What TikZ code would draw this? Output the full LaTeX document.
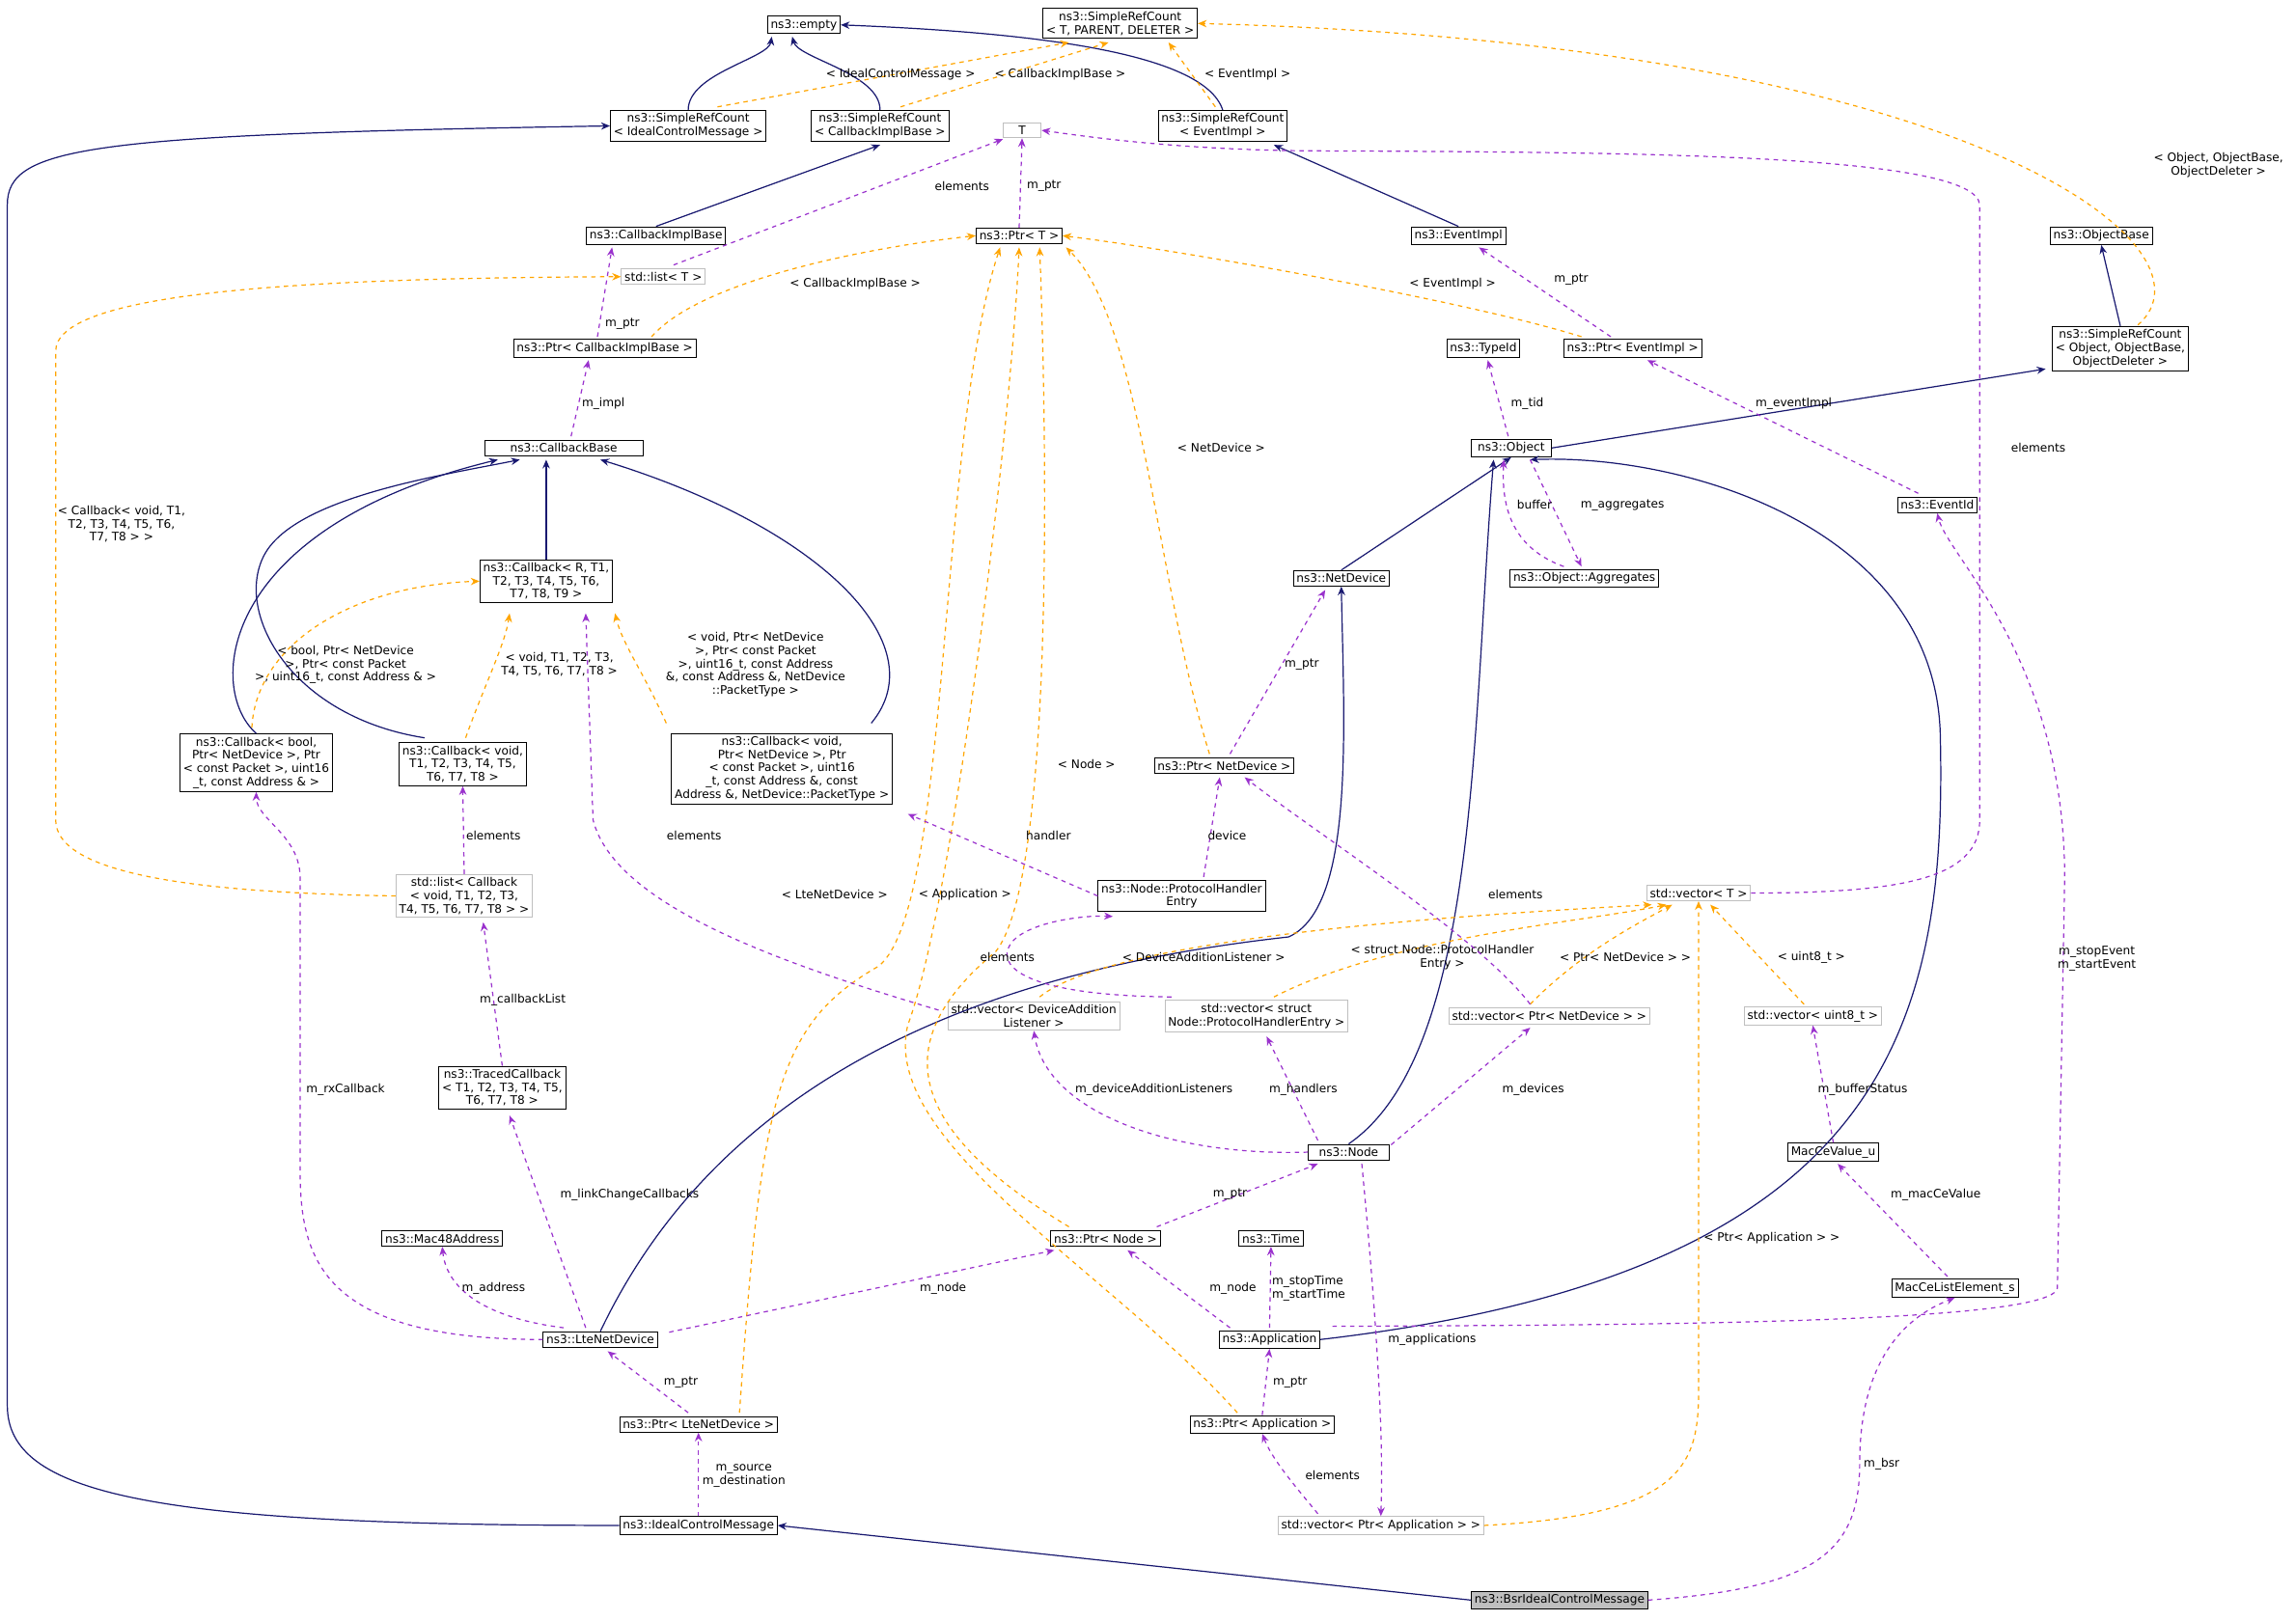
\documentclass[tikz,border=0pt]{standalone}
\usepackage{fontspec}
\setmainfont{DejaVu Sans}
\usetikzlibrary{arrows.meta}
\definecolor{nv}{HTML}{191970}
\definecolor{orn}{HTML}{FFA500}
\definecolor{pur}{HTML}{9A32CD}
\definecolor{gb}{HTML}{BFBFBF}
\begin{document}
\begin{tikzpicture}[x=1pt,y=-1pt,font=\fontsize{8}{9}\selectfont,
 box/.style={draw=black,fill=white,inner sep=2.2pt,align=center,line width=0.6pt},
 gbox/.style={draw=gb,fill=white,inner sep=2.2pt,align=center,line width=0.6pt},
 inh/.style={draw=nv,line width=0.8pt,-{Stealth[length=6pt,width=5pt]}},
 tpl/.style={draw=orn,dashed,line width=0.8pt,-{Stealth[length=6pt,width=5pt]}},
 use/.style={draw=pur,dashed,line width=0.8pt,-{Stealth[length=6pt,width=5pt]}},
 lbl/.style={inner sep=0.5pt,align=center}]
\useasboundingbox (0,0) rectangle (1568,1107);
% nodes
\node[box] (empty) at (549,17) {ns3::empty};
\node[box] (SRCT) at (765,16) {ns3::SimpleRefCount\\< T, PARENT, DELETER >};
\node[box] (SRCICM) at (470,86) {ns3::SimpleRefCount\\< IdealControlMessage >};
\node[box] (SRCCIB) at (601,86) {ns3::SimpleRefCount\\< CallbackImplBase >};
\node[box] (SRCEI) at (835,86) {ns3::SimpleRefCount\\< EventImpl >};
\node[gbox,minimum width=26pt] (T) at (698,89) {T};
\node[box] (CIB) at (448,161) {ns3::CallbackImplBase};
\node[box] (PtrT) at (696,161) {ns3::Ptr< T >};
\node[box] (EventImpl) at (996,161) {ns3::EventImpl};
\node[box] (ObjectBase) at (1435,161) {ns3::ObjectBase};
\node[gbox] (listT) at (453,189) {std::list< T >};
\node[box] (PtrCIB) at (413,238) {ns3::Ptr< CallbackImplBase >};
\node[box] (TypeId) at (1013,238) {ns3::TypeId};
\node[box] (PtrEI) at (1115,238) {ns3::Ptr< EventImpl >};
\node[box] (SRCOB) at (1448,238) {ns3::SimpleRefCount\\< Object, ObjectBase,\\ObjectDeleter >};
\node[box,minimum width=108pt] (CallbackBase) at (385,306) {ns3::CallbackBase};
\node[box,minimum width=55pt] (Object) at (1032,306) {ns3::Object};
\node[box] (EventId) at (1323,345) {ns3::EventId};
\node[box] (CbR) at (373,397) {ns3::Callback< R, T1,\\T2, T3, T4, T5, T6,\\T7, T8, T9 >};
\node[box] (NetDevice) at (916,395) {ns3::NetDevice};
\node[box] (ObjAgg) at (1082,395) {ns3::Object::Aggregates};
\node[box] (CbBool) at (175,521) {ns3::Callback< bool,\\Ptr< NetDevice >, Ptr\\< const Packet >, uint16\\\_t, const Address \& >};
\node[box] (CbVoid) at (316,522) {ns3::Callback< void,\\T1, T2, T3, T4, T5,\\T6, T7, T8 >};
\node[box] (CbVoid2) at (534,525) {ns3::Callback< void,\\Ptr< NetDevice >, Ptr\\< const Packet >, uint16\\\_t, const Address \&, const\\Address \&, NetDevice::PacketType >};
\node[box] (PtrND) at (836,523) {ns3::Ptr< NetDevice >};
\node[gbox] (listCb) at (317,612) {std::list< Callback\\< void, T1, T2, T3,\\T4, T5, T6, T7, T8 > >};
\node[box] (PHE) at (807,612) {ns3::Node::ProtocolHandler\\Entry};
\node[gbox] (vecT) at (1160,610) {std::vector< T >};
\node[gbox] (vecDAL) at (706,694) {std::vector< DeviceAddition\\Listener >};
\node[gbox] (vecPHE) at (858,694) {std::vector< struct\\Node::ProtocolHandlerEntry >};
\node[gbox] (vecPND) at (1058,694) {std::vector< Ptr< NetDevice > >};
\node[gbox] (vecU8) at (1238,694) {std::vector< uint8\_t >};
\node[box] (Traced) at (343,743) {ns3::TracedCallback\\< T1, T2, T3, T4, T5,\\T6, T7, T8 >};
\node[box,minimum width=55pt] (Node) at (921,787) {ns3::Node};
\node[box] (MacCe) at (1252,787) {MacCeValue\_u};
\node[box] (Mac48) at (302,846) {ns3::Mac48Address};
\node[box] (PtrNode) at (755,846) {ns3::Ptr< Node >};
\node[box] (Time) at (868,846) {ns3::Time};
\node[box] (MacCeList) at (1335,880) {MacCeListElement\_s};
\node[box] (LteNet) at (410,915) {ns3::LteNetDevice};
\node[box] (App) at (867,915) {ns3::Application};
\node[box] (PtrLte) at (477,973) {ns3::Ptr< LteNetDevice >};
\node[box] (PtrApp) at (862,973) {ns3::Ptr< Application >};
\node[box] (ICM) at (477,1042) {ns3::IdealControlMessage};
\node[gbox] (vecPApp) at (943,1042) {std::vector< Ptr< Application > >};
\node[box,fill=gb] (Bsr) at (1065,1093) {ns3::BsrIdealControlMessage};
% inheritance
\draw[inh] (SRCICM.north) .. controls (470,50) and (525,40) .. (527,25);
\draw[inh] (SRCCIB.north) .. controls (601,50) and (545,40) .. (541,25);
\draw[inh] (SRCEI.north) .. controls (822,35) and (700,22) .. (empty.east);
\draw[inh] (CIB.north) -- (601,99);
\draw[inh] (EventImpl.north) -- (870,99);
\draw[inh] (SRCOB.north) -- (ObjectBase.south);
\draw[inh] (Object.east) -- (1397,252);
\draw[inh] (CbR.north) -- (373,314);
\draw[inh] (CbBool.north) .. controls (140,470) and (150,360) .. (340,314);
\draw[inh] (290,504) .. controls (200,490) and (160,420) .. (180,380) .. controls (200,340) and (300,325) .. (355,314);
\draw[inh] (595,494) .. controls (640,440) and (560,360) .. (410,314);
\draw[inh] (LteNet.north) .. controls (500,720) and (700,660) .. (880,640) .. controls (925,620) and (918,500) .. (NetDevice.south);
\draw[inh] (Node.north) .. controls (1010,720) and (1005,500) .. (1020,314);
\draw[inh] (App.east) .. controls (1290,870) and (1330,700) .. (1325,500) .. controls (1320,360) and (1150,310) .. (1045,314);
\draw[inh] (NetDevice.north) -- (Object.south);
\draw[inh] (ICM.west) .. controls (100,1042) and (5,1020) .. (5,960) -- (5,140) .. controls (5,100) and (60,92) .. (SRCICM.west);
\draw[inh] (Bsr.west) -- (ICM.east);
% templates
\draw[tpl] (490,73) -- (730,29); \node[lbl] (t1) at (615,51) {< IdealControlMessage >};
\draw[tpl] (615,73) -- (757,29); \node[lbl] (t2) at (724,51) {< CallbackImplBase >};
\draw[tpl] (830,73) -- (798,29); \node[lbl] (t3) at (852,51) {< EventImpl >};
\draw[tpl] (1460,222) .. controls (1520,170) and (1350,30) .. (SRCT.east); \node[lbl] (t4) at (1515,113) {< Object, ObjectBase,\\ObjectDeleter >};
\draw[tpl] (445,230) .. controls (480,190) and (600,168) .. (PtrT.west); \node[lbl] (t5) at (584,194) {< CallbackImplBase >};
\draw[tpl] (1080,230) .. controls (1000,205) and (800,170) .. (PtrT.east); \node[lbl] (t6) at (992,194) {< EventImpl >};
\draw[tpl] (826,515) .. controls (790,400) and (780,220) .. (728,169); \node[lbl] (t7) at (834,306) {< NetDevice >};
\draw[tpl] (730,838) .. controls (600,760) and (620,700) .. (680,650) .. controls (720,600) and (715,300) .. (710,169); \node[lbl] (t8) at (742,522) {< Node >};
\draw[tpl] (505,965) .. controls (520,750) and (530,700) .. (600,660) .. controls (650,620) and (640,300) .. (683,169); \node[lbl] (t9) at (570,611) {< LteNetDevice >};
\draw[tpl] (845,965) .. controls (760,870) and (600,780) .. (620,700) .. controls (650,620) and (690,300) .. (696,169); \node[lbl] (t10) at (659,611) {< Application >};
\draw[tpl] (listCb.west) .. controls (150,610) and (38,600) .. (38,560) -- (38,240) .. controls (38,200) and (200,190) .. (listT.west); \node[lbl] (t11) at (83,358) {< Callback< void, T1,\\T2, T3, T4, T5, T6,\\T7, T8 > >};
\draw[tpl] (172,497) .. controls (175,440) and (240,400) .. (CbR.west); \node[lbl] (t12) at (236,454) {< bool, Ptr< NetDevice\\>, Ptr< const Packet\\>, uint16\_t, const Address \& >};
\draw[tpl] (318,504) .. controls (330,470) and (345,440) .. (348,419); \node[lbl] (t13) at (382,454) {< void, T1, T2, T3,\\T4, T5, T6, T7, T8 >};
\draw[tpl] (455,494) .. controls (440,460) and (425,440) .. (420,419); \node[lbl] (t14) at (516,454) {< void, Ptr< NetDevice\\>, Ptr< const Packet\\>, uint16\_t, const Address\\\&, const Address \&, NetDevice\\::PacketType >};
\draw[tpl] (710,681) .. controls (760,640) and (1000,625) .. (1128,618); \node[lbl] (t15) at (822,654) {< DeviceAdditionListener >};
\draw[tpl] (870,681) .. controls (950,640) and (1080,630) .. (1138,618); \node[lbl] (t16) at (985,654) {< struct Node::ProtocolHandler\\Entry >};
\draw[tpl] (1045,686) .. controls (1080,650) and (1120,630) .. (1142,618); \node[lbl] (t17) at (1110,654) {< Ptr< NetDevice > >};
\draw[tpl] (1232,686) -- (1168,618); \node[lbl] (t18) at (1237,654) {< uint8\_t >};
\draw[tpl] (vecPApp.east) .. controls (1150,1035) and (1160,1000) .. (1160,950) -- (vecT.south); \node[lbl] (t19) at (1210,846) {< Ptr< Application > >};
% usage
\draw[use] (460,181) -- (685,95); \node[lbl] (u1) at (657,127) {elements};
\draw[use] (PtrT.north) -- (T.south); \node[lbl] (u2) at (713,127) {m\_ptr};
\draw[use] (vecT.east) .. controls (1300,610) and (1352,600) .. (1352,560) -- (1352,140) .. controls (1350,104) and (1100,104) .. (890,103) .. controls (800,102) and (740,93) .. (T.east); \node[lbl] (u3) at (1392,306) {elements};
\draw[use] (408,230) -- (418,169); \node[lbl] (u4) at (425,221) {m\_ptr};
\draw[use] (1100,230) -- (1010,169); \node[lbl] (u5) at (1073,191) {m\_ptr};
\draw[use] (390,298) -- (402,246); \node[lbl] (u6) at (412,276) {m\_impl};
\draw[use] (1030,298) -- (1016,246); \node[lbl] (u7) at (1043,276) {m\_tid};
\draw[use] (1045,314) -- (1080,387); \node[lbl] (u8) at (1108,345) {m\_aggregates};
\draw[use] (1068,387) .. controls (1035,375) and (1025,350) .. (1027,314); \node[lbl] (u9) at (1048,345) {buffer};
\draw[use] (1310,337) -- (1125,246); \node[lbl] (u10) at (1225,276) {m\_eventImpl};
\draw[use] (840,515) -- (905,403); \node[lbl] (u11) at (889,454) {m\_ptr};
\draw[use] (822,599) -- (833,531); \node[lbl] (u12) at (838,571) {device};
\draw[use] (PHE.west) -- (620,556); \node[lbl] (u13) at (716,571) {handler};
\draw[use] (listCb.north) -- (CbVoid.south); \node[lbl] (u14) at (337,571) {elements};
\draw[use] (Traced.north) -- (330,630); \node[lbl] (u15) at (357,683) {m\_callbackList};
\draw[use] (641,690) .. controls (540,660) and (420,620) .. (405,560) -- (400,419); \node[lbl] (u16) at (474,571) {elements};
\draw[use] (800,681) .. controls (700,680) and (680,660) .. (690,645) .. controls (700,630) and (740,625) .. (760,626); \node[lbl] (u17) at (688,654) {elements};
\draw[use] (1045,686) .. controls (1010,640) and (900,570) .. (850,531); \node[lbl] (u18) at (1035,611) {elements};
\draw[use] (MacCe.north) -- (vecU8.south); \node[lbl] (u19) at (1272,744) {m\_bufferStatus};
\draw[use] (Node.west) .. controls (800,790) and (715,760) .. (vecDAL.south); \node[lbl] (u20) at (788,744) {m\_deviceAdditionListeners};
\draw[use] (900,779) -- (865,708); \node[lbl] (u21) at (890,744) {m\_handlers};
\draw[use] (950,782) -- (1045,702); \node[lbl] (u22) at (1047,744) {m\_devices};
\draw[use] (930,795) .. controls (940,900) and (945,980) .. (vecPApp.north); \node[lbl] (u23) at (978,915) {m\_applications};
\draw[use] (790,838) -- (900,795); \node[lbl] (u24) at (840,816) {m\_ptr};
\draw[use] (1330,872) -- (1255,795); \node[lbl] (u25) at (1322,816) {m\_macCeValue};
\draw[use] (LteNet.west) .. controls (220,915) and (205,860) .. (205,800) -- (205,600) .. controls (205,570) and (175,560) .. (CbBool.south); \node[lbl,fill=white] (u26) at (236,744) {m\_rxCallback};
\draw[use] (400,907) -- (348,762); \node[lbl] (u27) at (430,816) {m\_linkChangeCallbacks};
\draw[use] (385,907) .. controls (330,900) and (305,880) .. (Mac48.south); \node[lbl] (u28) at (337,880) {m\_address};
\draw[use] (457,910) -- (720,854); \node[lbl] (u29) at (644,880) {m\_node};
\draw[use] (840,907) -- (770,854); \node[lbl] (u30) at (842,880) {m\_node};
\draw[use] (867,907) -- (Time.south); \node[lbl,anchor=west,align=left] (u31) at (868,880) {m\_stopTime\\m\_startTime};
\draw[use] (910,906) .. controls (1100,905) and (1400,905) .. (1405,880) -- (1410,600) .. controls (1410,450) and (1330,380) .. (EventId.south); \node[lbl] (u32) at (1432,655) {m\_stopEvent\\m\_startEvent};
\draw[use] (470,965) -- (415,923); \node[lbl] (u33) at (465,944) {m\_ptr};
\draw[use] (PtrApp.north) -- (App.south); \node[lbl] (u34) at (881,944) {m\_ptr};
\draw[use] (900,1034) .. controls (880,1010) and (868,995) .. (PtrApp.south); \node[lbl] (u35) at (910,1008) {elements};
\draw[use] (ICM.north) -- (PtrLte.south); \node[lbl] (u36) at (508,1008) {m\_source\\m\_destination};
\draw[use] (Bsr.east) .. controls (1240,1085) and (1270,1060) .. (1270,1000) .. controls (1270,930) and (1300,900) .. (MacCeList.south); \node[lbl] (u37) at (1285,1000) {m\_bsr};
\end{tikzpicture}
\end{document}
